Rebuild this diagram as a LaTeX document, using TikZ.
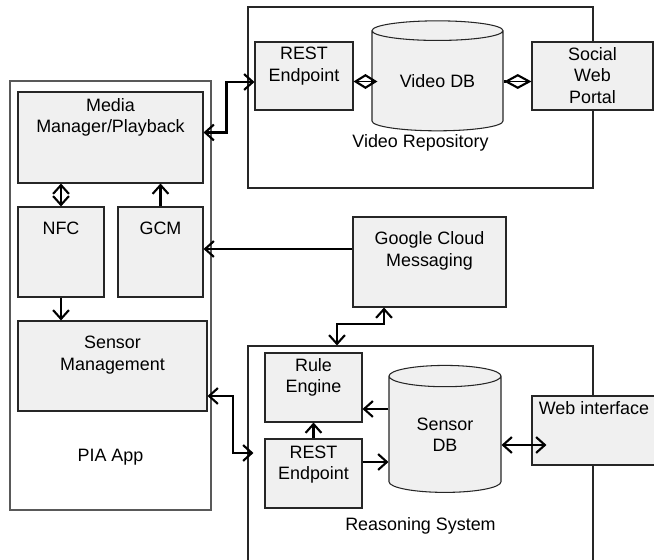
\documentclass[tikz,border=0pt]{standalone}
\usepackage{fontspec}
\setmainfont{Liberation Sans}
\usepackage{tikz}
\usetikzlibrary{shapes.geometric, positioning, arrows.meta, calc, fit}
\definecolor{BoxGray}{RGB}{240,240,240}

\begin{document}
\begin{tikzpicture}[x=0.02cm, y=-0.02cm,
    font=\fontsize{10.2}{12.2}\selectfont,
    frame/.style={rectangle, draw=black!85, line width=0.6pt, fill=white, inner sep=0pt},
    box/.style={rectangle, draw=black!85, line width=0.6pt, fill=BoxGray, inner sep=0pt},
    db/.style={cylinder, shape border rotate=90, draw=black!85, line width=0.6pt,
               fill=BoxGray, align=center, inner sep=0pt},
    lbl/.style={anchor=north, align=center, inner sep=0pt},
    arr/.style={-{Straight Barb[length=5pt, width=9pt]}, line width=1.2pt},
    dbl/.style={{Straight Barb[length=5pt, width=9pt]}-{Straight Barb[length=5pt, width=9pt]},
                line width=1.2pt},
    agg/.style={{Diamond[open, length=#1, width=8.5pt]}-, line width=1.2pt}
  ]
  \useasboundingbox (0,0) rectangle (654,560);

  % containers
  \node[frame, draw=black!65, fit={(10,81) (211,510)}] (pia) {};
  \node[frame, fit={(248,7) (593,188)}] (vrep) {};
  \node[frame, fit={(248,346) (593,570)}] (rsys) {};

  % PIA App
  \node[box, fit={(18,92) (203,183)},
        label={[lbl, yshift=-3.7pt]north:Media\\Manager/Playback}] (mm) {};
  \node[box, fit={(18,207) (104,297)}, label={[lbl, yshift=-8.9pt]north:NFC}] (nfc) {};
  \node[box, fit={(118,207) (203,297)}, label={[lbl, yshift=-8.9pt]north:GCM}] (gcm) {};
  \node[box, fit={(18,321) (207,411)},
        label={[lbl, yshift=-8.9pt]north:Sensor\\Management}] (sm) {};
  \node (piaT) at (110.5,457) {PIA App};

  % Video Repository
  \node[box, fit={(255,42) (353,110)},
        label={[lbl, yshift=-3pt]north:REST\\Endpoint}] (rv) {};
  \node[db, minimum width=2.62cm, minimum height=2.2cm, aspect=0.26] (vdb) at (437.5,81) {Video DB};
  \node[box, fit={(532,42) (653,110)},
        label={[lbl, yshift=-3.2pt]north:Social\\Web\\Portal}] (swp) {};
  \node (vrepT) at (420.5,143) {Video Repository};

  % Google Cloud Messaging
  \node[box, fit={(353,217) (506,307)},
        label={[lbl, yshift=-8.5pt]north:Google Cloud\\Messaging}] (gcmc) {};

  % Reasoning System
  \node[box, fit={(265,353) (362,422)},
        label={[lbl, yshift=-3.2pt]north:Rule\\Engine}] (re) {};
  \node[box, fit={(265,439) (362,508)},
        label={[lbl, yshift=-3.8pt]north:REST\\Endpoint}] (rr) {};
  \node[db, minimum width=2.24cm, minimum height=2.54cm, aspect=0.375] (sdb) at (445,434.5) {Sensor\\DB};
  \node[box, fit={(532,396) (656,465)},
        label={[lbl, yshift=-3.2pt]north:Web interface}] (web) {};
  \node (rsysT) at (420.5,526) {Reasoning System};

  % connectors inside the app
  \draw[dbl] (nfc.north) -- (nfc.north |- mm.south);
  \draw[arr] (gcm.north) -- (gcm.north |- mm.south);
  \draw[arr] (nfc.south) -- (nfc.south |- sm.north);

  % app <-> video repository
  \draw[dbl] ($(mm.east)+(0,-5)$) -| ($(rv.west)+(-28,6)$) -- ($(rv.west)+(0,6)$);
  \coordinate (rvA) at ($(rv.east)+(0,5.5)$);
  \draw[agg=13.6pt] (rvA) -- (rvA -| vdb.west);
  \draw[line width=0.8pt] (rvA) -- (rvA -| vdb.west);
  \draw[agg=15.6pt] (rvA -| swp.west) -- (rvA -| vdb.east);
  \draw[line width=0.8pt] (rvA -| swp.west) -- (rvA -| vdb.east);

  % cloud messaging
  \coordinate (gcA) at ($(gcmc.west)+(0,-13)$);
  \draw[arr] (gcA) -- (gcA -| gcm.east);
  \coordinate (gcB) at (337,324);
  \draw[dbl] ($(gcmc.south)+(-45.5,0)$) |- (gcB) -- (gcB |- rsys.north);

  % app <-> reasoning system
  \coordinate (smB) at (233,453);
  \draw[dbl] ($(sm.east)+(0,30)$) -| (smB) -- ($(rsys.west |- smB)+(6,0)$);

  % inside the reasoning system
  \draw[arr] (rr.north) -- (re.south);
  \coordinate (sdA) at ($(sdb.west)+(0,-25.5)$);
  \draw[arr] (sdA) -- (sdA -| re.east);
  \coordinate (rrA) at ($(rr.east)+(0,-11.5)$);
  \draw[arr] (rrA) -- (rrA -| sdb.west);
  \coordinate (sdB) at ($(sdb.east)+(0,10.5)$);
  \draw[dbl] (sdB) -- ($(sdB -| web.west)+(15,0)$);
\end{tikzpicture}
\end{document}
